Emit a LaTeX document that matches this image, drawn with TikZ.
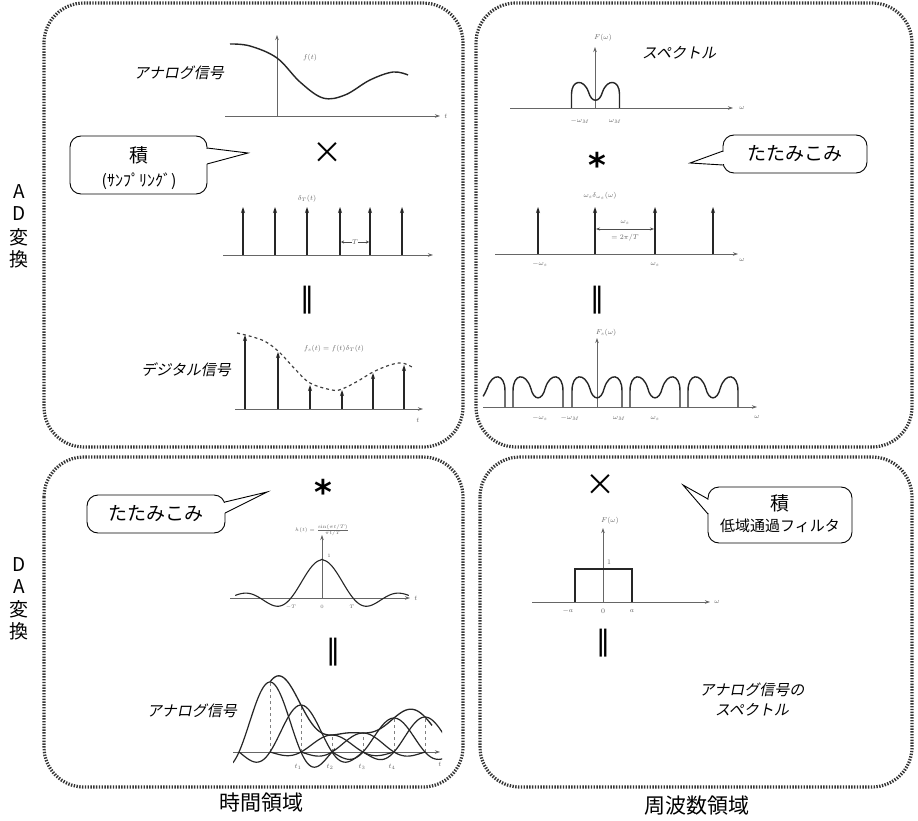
\documentclass[tikz,border=0pt]{standalone}
\usepackage{fontspec}
\newfontfamily\jp{Noto Sans CJK JP}
\newfontfamily\jpit[FakeSlant=0.2]{Noto Sans CJK JP}
\newfontfamily\dv{DejaVu Sans}
\usetikzlibrary{arrows.meta}
\tikzset{
 panel/.style={draw=black!80, line width=3.2pt, dash pattern=on 1.4pt off 1.4pt, rounded corners=40pt},
 ax/.style={draw=black!60, line width=0.8pt, -{Stealth[length=5pt,width=3.5pt]}},
 sig/.style={draw=black!85, line width=1.4pt},
 imp/.style={draw=black!85, line width=1.5pt, -{Stealth[length=6pt,width=4pt]}},
 lbl/.style={font=\fontsize{7}{8}\selectfont, text=black!60, inner sep=1pt},
 itlab/.style={font=\jpit\fontsize{15}{18}\selectfont, inner sep=0pt},
 opsym/.style={inner sep=0pt},
 cbox/.style={draw=black, line width=0.9pt, fill=white, rounded corners=11pt},
 cline/.style={draw=black, line width=0.9pt},
 ctext/.style={font=\jp\fontsize{19}{22}\selectfont, inner sep=0pt},
 side/.style={font=\jp\fontsize{19}{22}\selectfont, inner sep=0pt},
 domlbl/.style={font=\jp\fontsize{21}{24}\selectfont, inner sep=0pt},
 declare function={snc(\t)=sin(180*(\t+0.0001))/(pi*(\t+0.0001));},
 mhump/.pic={\draw[sig] (-24,0) -- (-24,-14) .. controls (-24,-28) and (-12,-30) .. (-7,-16) .. controls (-4,-5) and (4,-5) .. (7,-16) .. controls (12,-30) and (24,-28) .. (24,-14) -- (24,0);},
 rhump/.pic={\draw[sig] (3,-9) .. controls (5,-12) and (6,-14) .. (7,-16) .. controls (12,-30) and (24,-28) .. (24,-14) -- (24,0);}
}
\begin{document}
\begin{tikzpicture}[x=1pt,y=-1pt]
\useasboundingbox (0,0) rectangle (918,821);
\fill[white] (0,0) rectangle (918,821);
% panels
\draw[panel] (44,3) rectangle (463,447);
\draw[panel] (476,3) rectangle (912,447);
\draw[panel] (44,457) rectangle (463,787);
\draw[panel] (480,457) rectangle (912,787);

% side labels
\node[side] (ad1) at (19,192) {A};
\node[side] (ad2) at (19,214) {D};
\node[side] (ad3) at (19,237) {変};
\node[side] (ad4) at (19,259) {換};
\node[side] (da1) at (19,565) {D};
\node[side] (da2) at (19,587) {A};
\node[side] (da3) at (19,609) {変};
\node[side] (da4) at (19,631) {換};

% bottom labels
\node[domlbl] (tdom) at (261,803) {時間領域};
\node[domlbl] (fdom) at (697,806) {周波数領域};

% ===== top-left: analog signal =====
\draw[ax] (225,116) -- (440,116);
\draw[ax] (277,116) -- (277,35);
\node[lbl] (ft) at (310,58) {$f(t)$};
\node[lbl] (ftt) at (446,116) {$t$};
\draw[sig] plot[smooth, tension=0.6] coordinates {(230,44) (250,46) (277,58) (300,82) (323,98) (345,95) (370,80) (393,72) (408,75)};
\node[itlab, anchor=east] (an1) at (224,73) {アナログ信号};

% times
\node[opsym, font=\jp\fontsize{30}{30}\selectfont] (x1) at (327,153) {×};
% callout 1
\draw[cbox] (70,136) rectangle (207,194);
\fill[white] (204,149) rectangle (210,164);
\draw[cline] (207,148) -- (248,153) -- (207,164);
\node[ctext] (c1a) at (139,155) {積};
\node[inner sep=0pt, font=\jp\fontsize{16}{18}\selectfont] (c1b) at (139,181) {(ｻﾝﾌﾟﾘﾝｸﾞ)};

% delta train
\draw[ax] (223,255) -- (433,255);
\foreach \p in {243,275,307,340,370,402} \draw[imp] (\p,255) -- (\p,207);
\node[lbl] (dT) at (307,199) {$\delta_T(t)$};
\draw[draw=black!70, line width=0.8pt, {Stealth[length=3pt,width=3pt]}-{Stealth[length=3pt,width=3pt]}] (341,242) -- (369,242);
\node[lbl, fill=white, inner sep=0.5pt] (Tlab) at (355,242) {$T$};

% equals bar
\node[opsym, font=\dv\fontsize{28}{28}\selectfont] (eq1) at (307,300) {‖};

% digital signal
\draw[ax] (235,409) -- (423,409);
\node[lbl] (dt) at (418,420) {$t$};
\draw[black!75, line width=1.2pt, dashed] plot[smooth, tension=0.6] coordinates {(237,333) (262,340) (278,351) (295,369) (310,383) (332,390) (342,389) (358,381) (373,372) (390,365) (402,363) (412,367)};
\foreach \p/\h in {245/335,278/352,310/385,342/390,373/373,404/365} \draw[imp] (\p,409) -- (\p,\h);
\node[lbl] (fs) at (334,349) {$f_s(t)=f(t)\delta_T(t)$};
\node[itlab, anchor=east] (dig) at (231,370) {デジタル信号};

% ===== top-right: spectrum =====
\draw[ax] (510,108) -- (733,108);
\draw[ax] (595,108) -- (595,47);
\node[lbl] (Fw) at (603,38) {$F(\omega)$};
\node[lbl] (w1) at (742,108) {$\omega$};
\pic at (595.5,108) {mhump};
\node[lbl] (mwm1) at (580,121) {$-\omega_M$};
\node[lbl] (wm1) at (615,121) {$\omega_M$};
\node[itlab, anchor=west] (spec) at (642,53) {スペクトル};

% conv star
\node[opsym, font=\dv\bfseries\fontsize{34}{34}\selectfont] (s1) at (597,165) {*};
% callout 2
\draw[cbox] (723,135) rectangle (867,173);
\fill[white] (720,152) rectangle (726,164);
\draw[cline] (723,151) -- (690,163) -- (723,165);
\node[ctext] (c2) at (795,154) {たたみこみ};

% delta train freq
\draw[ax] (495,254) -- (738,254);
\node[lbl] (w2) at (742,260) {$\omega$};
\foreach \p in {538,595,655,713} \draw[imp] (\p,254) -- (\p,207);
\node[lbl] (dws) at (600,196) {$\omega_s\delta_{\omega_s}(\omega)$};
\draw[draw=black!70, line width=0.8pt, {Stealth[length=4pt,width=3pt]}-{Stealth[length=4pt,width=3pt]}] (596,229) -- (654,229);
\node[lbl, fill=white, inner sep=0.5pt] (wsl) at (625,222) {$\omega_s$};
\node[lbl] (wsl2) at (625,238) {$=2\pi/T$};
\node[lbl] (mws) at (540,264) {$-\omega_s$};
\node[lbl] (ws) at (655,264) {$\omega_s$};

\node[opsym, font=\dv\fontsize{28}{28}\selectfont] (eq2) at (597,300) {‖};

% sampled spectrum
\draw[ax] (483,407) -- (757,407);
\draw[ax] (597,407) -- (597,338);
\node[lbl] (Fs) at (606,333) {$F_s(\omega)$};
\node[lbl] (w3) at (757,417) {$\omega$};
\pic[xscale=1.04, yscale=1.18] at (480,407) {rhump};
\foreach \c in {538,597,655,713} \pic[xscale=1.04, yscale=1.18] at (\c,407) {mhump};
\node[lbl] (l1) at (540,418) {$-\omega_s$};
\node[lbl] (l2) at (570,418) {$-\omega_M$};
\node[lbl] (l3) at (619,418) {$\omega_M$};
\node[lbl] (l4) at (655,418) {$\omega_s$};

% ===== bottom-left =====
\node[opsym, font=\dv\bfseries\fontsize{34}{34}\selectfont] (s2) at (323,492) {*};
% callout 3
\draw[cbox] (87,495) rectangle (225,533);
\fill[white] (222,503) rectangle (228,513);
\draw[cline] (225,502) -- (267,492) -- (225,513);
\node[ctext] (c3) at (156,514) {たたみこみ};

% sinc
\draw[ax] (230,598) -- (410,598);
\draw[ax] (322,598) -- (322,535);
\draw[sig, line width=1.1pt] plot[domain=-2.8:2.8, samples=101] ({322+31*\x},{598-38*snc(\x)});
\node[lbl, font=\fontsize{5}{6}\selectfont] (hl) at (322,530) {$h(t)=\frac{\sin(\pi t/T)}{\pi t/T}$};
\node[lbl, font=\fontsize{5}{6}\selectfont] (one) at (329,556) {$1$};
\node[lbl] (tl) at (416,598) {$t$};
\node[lbl, font=\fontsize{5}{6}\selectfont] (mT) at (291,607) {$-T$};
\node[lbl, font=\fontsize{5}{6}\selectfont] (zT) at (322,607) {$0$};
\node[lbl, font=\fontsize{5}{6}\selectfont] (pT) at (352,607) {$T$};

\node[opsym, font=\dv\fontsize{28}{28}\selectfont] (eq3) at (333,652) {‖};

% reconstruction
\draw[ax] (233,752) -- (440,752);
\node[lbl] (rt) at (440,764) {$t$};
\foreach \tk/\ak in {270/70,301/47,332/17,363/19,394/34,425/35} \draw[black!50, line width=0.8pt, dashed] (\tk,752) -- (\tk,752-\ak);
\begin{scope}
\clip (233,640) rectangle (442,775);
\draw[sig, line width=1.2pt] plot[domain=-1.2:2.1, samples=60] ({270+31*\x},{752-70*snc(\x)});
\foreach \tk/\ak in {301/47,332/17,363/19,394/34,425/35} \draw[sig, line width=1.2pt] plot[domain=-2:2, samples=60] ({\tk+31*\x},{752-\ak*snc(\x)});
\draw[sig, line width=1.3pt] plot[domain=270:432, samples=120] ({\x},{752-70*snc((\x-270)/31)-47*snc((\x-301)/31)-17*snc((\x-332)/31)-19*snc((\x-363)/31)-34*snc((\x-394)/31)-35*snc((\x-425)/31)});
\end{scope}
\node[lbl] (t1) at (298,767) {$t_1$};
\node[lbl] (t2) at (330,767) {$t_2$};
\node[lbl] (t3) at (362,767) {$t_3$};
\node[lbl] (t4) at (392,767) {$t_4$};
\node[itlab, anchor=east] (an2) at (237,711) {アナログ信号};

% ===== bottom-right =====
\node[opsym, font=\jp\fontsize{30}{30}\selectfont] (x2) at (600,485) {×};
% callout 4
\draw[cbox] (708,487) rectangle (852,543);
\fill[white] (705,500) rectangle (711,513);
\draw[cline] (708,499) -- (683,485) -- (708,514);
\node[ctext] (c4a) at (780,503) {積};
\node[inner sep=0pt, font=\jp\fontsize{15}{18}\selectfont] (c4b) at (780,526) {低域通過フィルタ};

% rect
\draw[ax] (532,602) -- (710,602);
\draw[ax] (603,602) -- (603,528);
\node[lbl] (Fw2) at (610,521) {$F(\omega)$};
\node[lbl] (w4) at (717,602) {$\omega$};
\draw[sig] (575,602) -- (575,569) -- (632,569) -- (632,602);
\node[lbl] (onel) at (609,562) {$1$};
\node[lbl] (ma) at (568,611) {$-a$};
\node[lbl] (za) at (603,611) {$0$};
\node[lbl] (pa) at (632,611) {$a$};

\node[opsym, font=\dv\fontsize{28}{28}\selectfont] (eq4) at (603,643) {‖};
\node[itlab, align=center] (an3) at (752,700) {アナログ信号の\\[2pt]スペクトル};
\end{tikzpicture}
\end{document}
